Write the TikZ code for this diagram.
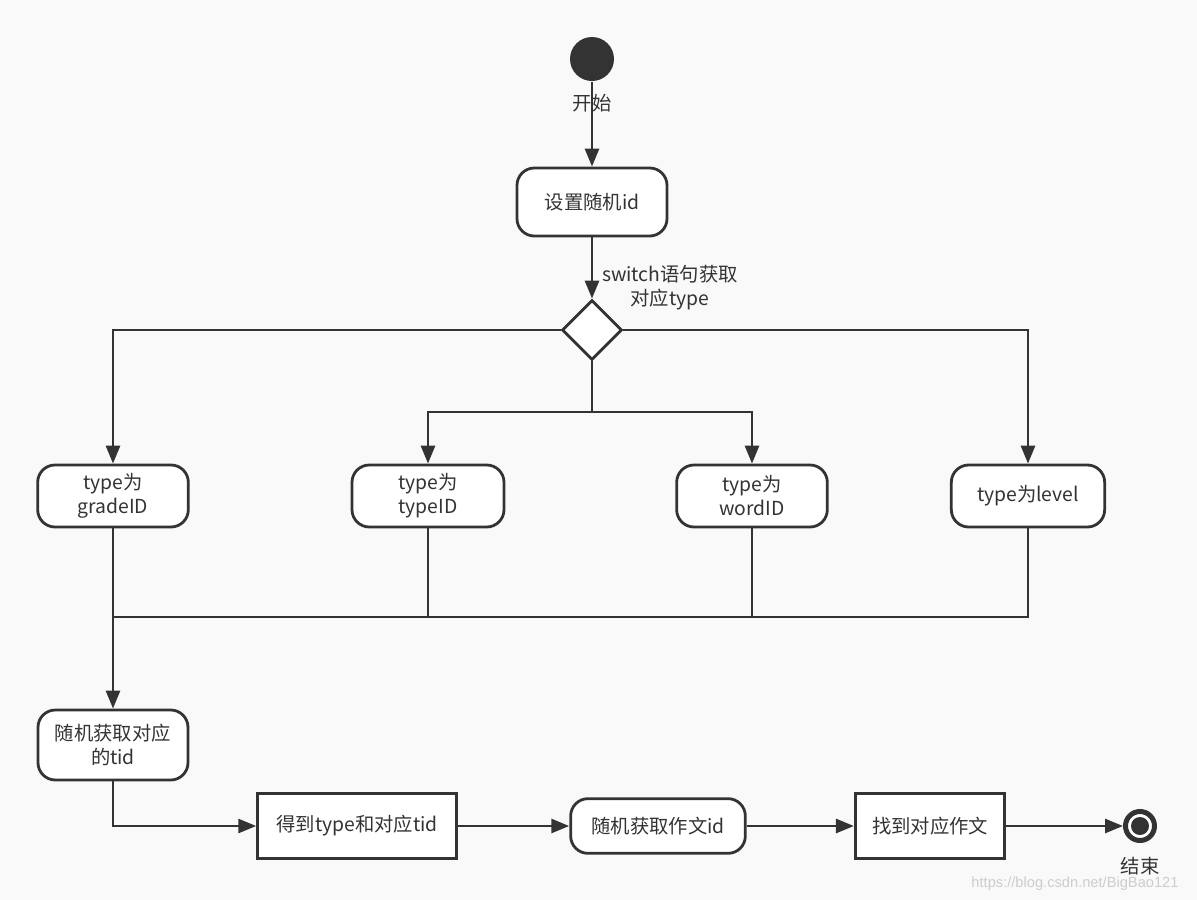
\documentclass[tikz,border=0pt]{standalone}
\usepackage{fontspec}
\setmainfont{Noto Sans CJK SC}
\newfontfamily\markfont{Liberation Sans}
\usepackage{tikz}
\usetikzlibrary{shapes.geometric, arrows.meta}
\definecolor{ink}{RGB}{51,51,51}
\definecolor{paper}{RGB}{249,249,249}
\definecolor{markgray}{RGB}{205,205,205}

\begin{document}
\begin{tikzpicture}[x=0.75pt,y=-0.75pt,
	line width=2.1pt, draw=ink, text=ink,
	font=\fontsize{14.5pt}{18pt}\selectfont,
	arr/.style={-{Triangle[length=13.5pt,width=10.5pt]}},
	act/.style={draw, fill=white, rounded corners=13pt, align=center, inner sep=0pt},
	plain/.style={draw, fill=white, align=center, inner sep=0pt}]
	% background and margins
	\fill[paper] (0,0) rectangle (1197,900);
	
	% start, first action and the switch
	\node[circle, fill=ink, minimum size=33pt, inner sep=0pt] (start) at (592,59) {};
	\node[act, minimum width=112.5pt, minimum height=51pt] (setid) at (592,202) {设置随机id};
	\node[diamond, draw, fill=white, minimum width=45pt, minimum height=45pt, inner sep=0pt] (choice) at (592,330) {};
	\draw[arr] (start) -- (setid.north);
	\node (startlabel) at (592,103) {开始};
	\draw[arr] (setid.south) -- (choice.north);
	\node[align=center] (switchlabel) at (670,288) {switch语句获取\\对应type};
	
	% the four cases
	\node[act, minimum width=113pt, minimum height=46.5pt] (grade) at (113,496) {type为\\gradeID};
	\node[act, minimum width=114pt, minimum height=46.5pt] (typeid) at (428,496) {type为\\typeID};
	\node[act, minimum width=113pt, minimum height=46.5pt] (word) at (752,496) {type为\\wordID};
	\node[act, minimum width=115pt, minimum height=46.5pt] (level) at (1028,496) {type为level};
	\coordinate (split) at (592,412);
	\draw[arr] (choice.west) -| (grade.north);
	\draw[arr] (choice.east) -| (level.north);
	\draw (choice.south) -- (split);
	\draw[arr] (split) -| (typeid.north);
	\draw[arr] (split) -| (word.north);
	
	% join the cases again
	\coordinate (merge) at (113,617);
	\draw (grade.south) -- (merge);
	\draw (typeid.south) -- (typeid.south |- merge);
	\draw (word.south) -- (word.south |- merge);
	\draw (merge) -- (level.south |- merge) -- (level.south);
	
	% bottom row
	\node[act, minimum width=112.5pt, minimum height=52.5pt] (gettid) at (113,745) {随机获取对应\\的tid};
	\node[plain, minimum width=149pt, minimum height=49pt] (gettype) at (357,826) {得到type和对应tid};
	\node[act, minimum width=131pt, minimum height=41pt] (getessay) at (658,826) {随机获取作文id};
	\node[plain, minimum width=112pt, minimum height=49pt] (findessay) at (930,826) {找到对应作文};
	\node[circle, draw, line width=3.75pt, fill=white, minimum size=21.75pt, inner sep=0pt] (stop) at (1140,826) {};
	\fill[ink] (stop.center) circle (9);
	\node (stoplabel) at (1140,866) {结束};
	\draw[arr] (merge) -- (gettid.north);
	\draw[arr] (gettid.south) |- (gettype.west);
	\draw[arr] (gettype.east) -- (getessay.west);
	\draw[arr] (getessay.east) -- (findessay.west);
	\draw[arr] (findessay.east) -- (stop.west);
	
	% watermark
	\node[text=markgray, font=\markfont\fontsize{11pt}{13pt}\selectfont] (mark) at (1075,884) {https://blog.csdn.net/BigBao121};
\end{tikzpicture}
\end{document}
